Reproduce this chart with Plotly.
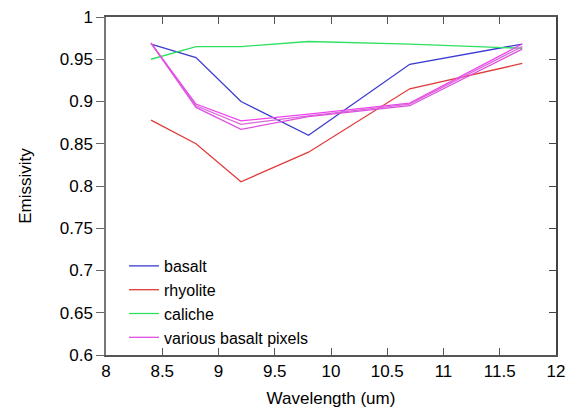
import plotly.graph_objects as go

wavelength = [8.4, 8.8, 9.2, 9.8, 10.7, 11.7]
basalt = [0.968, 0.952, 0.900, 0.860, 0.944, 0.968]
rhyolite = [0.878, 0.850, 0.805, 0.840, 0.915, 0.945]
caliche = [0.950, 0.965, 0.965, 0.971, 0.968, 0.963]
pixel_a = [0.969, 0.897, 0.877, 0.885, 0.898, 0.968]
pixel_b = [0.969, 0.895, 0.873, 0.883, 0.897, 0.965]
pixel_c = [0.969, 0.893, 0.867, 0.882, 0.895, 0.962]

x_ticks = [8, 8.5, 9, 9.5, 10, 10.5, 11, 11.5, 12]
x_tick_text = ["8", "8.5", "9", "9.5", "10", "10.5", "11", "11.5", "12"]
y_ticks = [0.6, 0.65, 0.7, 0.75, 0.8, 0.85, 0.9, 0.95, 1.0]
y_tick_text = ["0.6", "0.65", "0.7", "0.75", "0.8", "0.85", "0.9", "0.95", "1"]

fig = go.Figure()
lw = 1.3
fig.add_trace(go.Scatter(x=wavelength, y=basalt, mode="lines", name="basalt",
                         line=dict(color="#3b3bd0", width=lw)))
fig.add_trace(go.Scatter(x=wavelength, y=rhyolite, mode="lines", name="rhyolite",
                         line=dict(color="#e03c3c", width=lw)))
fig.add_trace(go.Scatter(x=wavelength, y=caliche, mode="lines", name="caliche",
                         line=dict(color="#2ee060", width=lw)))
fig.add_trace(go.Scatter(x=wavelength, y=pixel_a, mode="lines", name="various basalt pixels",
                         line=dict(color="#ee44ee", width=lw), showlegend=False))
fig.add_trace(go.Scatter(x=wavelength, y=pixel_b, mode="lines", name="various basalt pixels",
                         line=dict(color="#d968d9", width=lw), showlegend=False))
fig.add_trace(go.Scatter(x=wavelength, y=pixel_c, mode="lines", name="various basalt pixels",
                         line=dict(color="#e050e0", width=lw)))
# right-hand axis (ticks inside)
fig.add_trace(go.Scatter(x=[None], y=[None], yaxis="y2", showlegend=False, hoverinfo="skip"))

font_family = "Liberation Sans, Arial, Helvetica, sans-serif"
fs = 17
fig.update_layout(
    width=581, height=410,
    margin=dict(l=98, r=33, t=9, b=63),
    paper_bgcolor="white", plot_bgcolor="white",
    font=dict(family=font_family, size=fs, color="black"),
    showlegend=True,
    legend=dict(x=0.04, y=0.0, xanchor="left", yanchor="bottom",
                bgcolor="rgba(0,0,0,0)", font=dict(size=16),
                tracegroupgap=0, itemwidth=30),
    xaxis=dict(range=[8, 12], tickvals=x_ticks, ticktext=x_tick_text,
               ticks="inside", ticklen=7, tickcolor="#555", showgrid=False,
               showline=True, linecolor="#555", linewidth=1.5, mirror="ticks",
               zeroline=False, automargin=False, tickfont=dict(size=fs),
               ticklabeloverflow="allow",
               title=dict(text="Wavelength (um)", standoff=12, font=dict(size=fs))),
    yaxis=dict(range=[0.6, 1.0], tickvals=y_ticks, ticktext=y_tick_text,
               ticks="outside", ticklen=8, tickcolor="#666", showgrid=False,
               showline=True, linecolor="#777", linewidth=1.5, zeroline=False,
               automargin=False, tickfont=dict(size=fs),
               ticklabeloverflow="allow",
               title=dict(text="Emissivity", standoff=24, font=dict(size=fs))),
    yaxis2=dict(range=[0.6, 1.0], tickvals=y_ticks, showticklabels=False,
                overlaying="y", side="right", ticks="inside", ticklen=7,
                tickcolor="#444", showgrid=False, showline=True,
                linecolor="#444", linewidth=1.5, zeroline=False, automargin=False),
)

fig.write_html("out.html")
